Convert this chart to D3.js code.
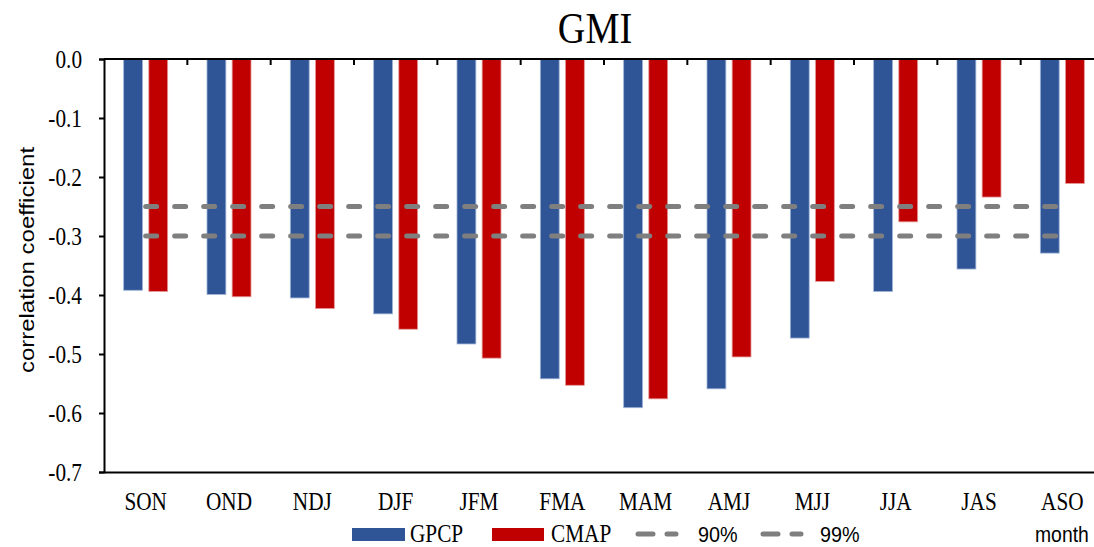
<!DOCTYPE html>
<html>
<head>
<meta charset="utf-8">
<script src="https://cdn.jsdelivr.net/npm/d3@7"></script>
<style>
  body { margin: 0; background: #fff; }
  svg { display: block; }
</style>
</head>
<body>
<div id="chart"></div>
<script>
// data
var seasons = ["SON", "OND", "NDJ", "DJF", "JFM", "FMA", "MAM", "AMJ", "MJJ", "JJA", "JAS", "ASO"];
var gpcp = [-0.392, -0.399, -0.405, -0.432, -0.483, -0.542, -0.591, -0.559, -0.473, -0.394, -0.356, -0.329];
var cmap = [-0.394, -0.403, -0.423, -0.458, -0.507, -0.553, -0.576, -0.505, -0.377, -0.276, -0.234, -0.211];
var sig90 = [-0.25, -0.25, -0.25, -0.25, -0.25, -0.25, -0.25, -0.25, -0.25, -0.25, -0.25, -0.25];
var sig99 = [-0.3, -0.3, -0.3, -0.3, -0.3, -0.3, -0.3, -0.3, -0.3, -0.3, -0.3, -0.3];
var yTicks = [0, -0.1, -0.2, -0.3, -0.4, -0.5, -0.6, -0.7];
var seriesNames = ["GPCP", "CMAP"];

var svgWidth = 1094;
var svgHeight = 547;

var margin = { top: 59, right: -10, bottom: 75, left: 104 };
var width = svgWidth - margin.left - margin.right;   // runs past the right edge, like the cropped original
var height = svgHeight - margin.top - margin.bottom;

var serif = "'Liberation Serif', 'Times New Roman', serif";
var sans = "'Liberation Sans', Arial, sans-serif";
var squeeze = 0.85;   // the original text is narrow, as if the picture was squeezed sideways
var blue = "#2f5597";
var red = "#c00000";
var dashGrey = "#7f7f7f";

var svg = d3.select("#chart")
  .append("svg")
  .attr("width", svgWidth)
  .attr("height", svgHeight);

var chartGroup = svg.append("g")
  .attr("transform", `translate(${margin.left}, ${margin.top})`);

// scales
var xScale = d3.scaleBand()
  .domain(seasons)
  .range([0, width])
  .padding(0);

var xInner = d3.scaleBand()
  .domain(seriesNames)
  .range([-22, 22])
  .paddingInner(0.25);

var yScale = d3.scaleLinear()
  .domain([-0.7, 0])
  .range([height, 0]);

var fmt = d3.format(".1f");

// bars
var rows = seasons.map(function(s, i) {
  return { season: s, values: [{ key: "GPCP", v: gpcp[i] }, { key: "CMAP", v: cmap[i] }] };
});

var groups = chartGroup.selectAll(".grp")
  .data(rows)
  .enter()
  .append("g")
  .attr("class", "grp")
  .attr("transform", d => `translate(${xScale(d.season) + xScale.bandwidth() / 2}, 0)`);

groups.selectAll("rect")
  .data(d => d.values)
  .enter()
  .append("rect")
  .attr("x", d => xInner(d.key))
  .attr("y", yScale(0))
  .attr("width", xInner.bandwidth())
  .attr("height", d => yScale(d.v) - yScale(0))
  .attr("fill", d => d.key == "GPCP" ? blue : red)
  .attr("stroke", d => d.key == "GPCP" ? "#9fb3d6" : "#e59a9a")
  .attr("stroke-width", 0.8);

// significance lines
var line = d3.line()
  .x((d, i) => xScale(seasons[i]) + xScale.bandwidth() / 2)
  .y(d => yScale(d));

[sig90, sig99].forEach(function(s) {
  chartGroup.append("path")
    .datum(s)
    .attr("d", line)
    .attr("fill", "none")
    .attr("stroke", dashGrey)
    .attr("stroke-width", 5)
    .attr("stroke-linecap", "round")
    .attr("stroke-dasharray", "11,18");
});

// y axis
var leftAxis = d3.axisLeft(yScale)
  .tickValues(yTicks)
  .tickSize(5)
  .tickPadding(17)
  .tickFormat(d => fmt(d).replace("\u2212", "-"));

var yAxisG = chartGroup.append("g").call(leftAxis);
yAxisG.attr("font-family", null).attr("font-size", null);
yAxisG.select(".domain").attr("stroke", "#000").attr("stroke-width", 2);
yAxisG.selectAll(".tick line").attr("stroke", "#000").attr("stroke-width", 2);
yAxisG.selectAll("text")
  .attr("x", -22 / squeeze)
  .attr("transform", `scale(${squeeze}, 1)`)
  .style("font-family", serif)
  .style("font-size", "25px")
  .attr("fill", "#000");

// zero line with category boundary ticks
chartGroup.append("line")
  .attr("x1", 0).attr("x2", width)
  .attr("y1", yScale(0)).attr("y2", yScale(0))
  .attr("stroke", "#000").attr("stroke-width", 2);

chartGroup.selectAll(".bound")
  .data(seasons.slice(1))
  .enter()
  .append("line")
  .attr("class", "bound")
  .attr("x1", d => xScale(d)).attr("x2", d => xScale(d))
  .attr("y1", yScale(0)).attr("y2", yScale(0) + 6)
  .attr("stroke", "#000").attr("stroke-width", 2);

// bottom axis with category labels
var bottomAxis = d3.axisBottom(xScale).tickSize(0).tickPadding(20);
var xAxisG = chartGroup.append("g")
  .attr("transform", `translate(0, ${height})`)
  .call(bottomAxis);
xAxisG.attr("font-family", null).attr("font-size", null);
xAxisG.select(".domain").attr("stroke", "#000").attr("stroke-width", 2);
xAxisG.selectAll("text")
  .attr("transform", `scale(${squeeze}, 1)`)
  .style("font-family", serif)
  .style("font-size", "25px")
  .attr("fill", "#000");

// title
svg.append("text")
  .attr("transform", `translate(595, 43) scale(${squeeze}, 1)`)
  .style("text-anchor", "middle")
  .style("font-family", serif)
  .style("font-size", "45px")
  .text("GMI");

// y label
svg.append("text")
  .attr("transform", "translate(34, 260) rotate(-90) scale(1.2, 1)")
  .style("text-anchor", "middle")
  .style("font-family", sans)
  .style("font-size", "20px")
  .text("correlation coefficient");

// legend
var legendY = 534;
var legend = svg.append("g");

legend.append("rect").attr("x", 352).attr("y", legendY - 6).attr("width", 53).attr("height", 13).attr("fill", blue);
legend.append("rect").attr("x", 492).attr("y", legendY - 6).attr("width", 52).attr("height", 13).attr("fill", red);

[[638, 676], [763, 801]].forEach(function(p) {
  legend.append("line")
    .attr("x1", p[0]).attr("x2", p[1])
    .attr("y1", legendY).attr("y2", legendY)
    .attr("stroke", dashGrey)
    .attr("stroke-width", 5)
    .attr("stroke-linecap", "round")
    .attr("stroke-dasharray", "15,14");
});

var legendText = [
  { t: "GPCP", x: 410, f: serif, s: 25, k: squeeze },
  { t: "CMAP", x: 551, f: serif, s: 25, k: squeeze },
  { t: "90%", x: 698, f: sans, s: 22, k: 0.9 },
  { t: "99%", x: 820, f: sans, s: 22, k: 0.9 },
  { t: "month", x: 1035, f: sans, s: 22, k: 0.88 }
];
legend.selectAll(".lt")
  .data(legendText)
  .enter()
  .append("text")
  .attr("class", "lt")
  .attr("transform", d => `translate(${d.x}, ${legendY + 8}) scale(${d.k}, 1)`)
  .style("font-family", d => d.f)
  .style("font-size", d => d.s + "px")
  .text(d => d.t);
</script>
</body>
</html>
